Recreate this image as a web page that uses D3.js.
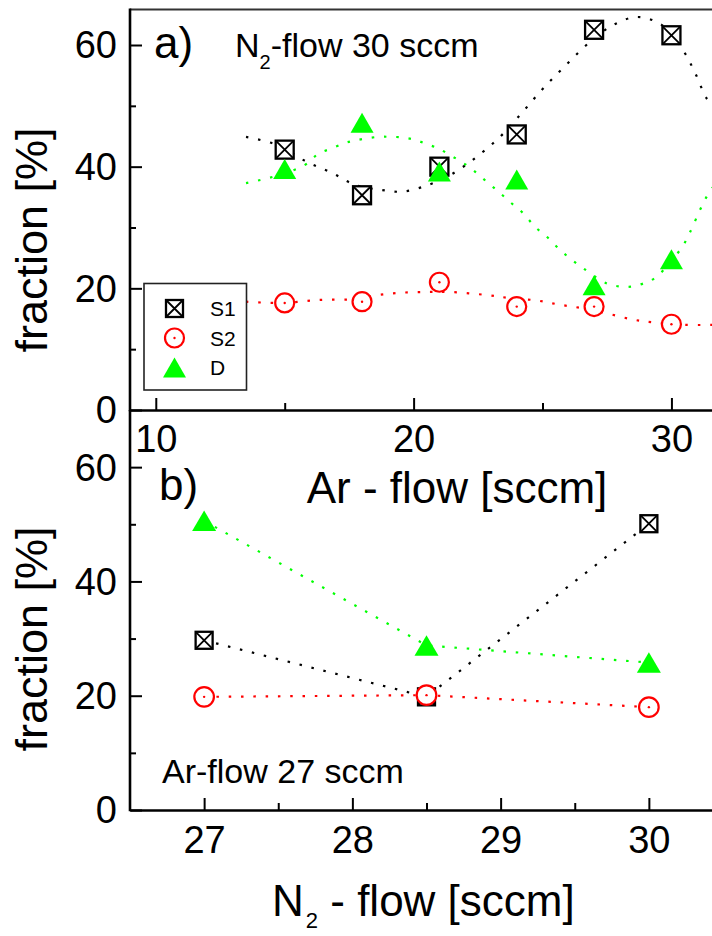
<!DOCTYPE html>
<html>
<head>
<meta charset="utf-8">
<script src="https://cdn.jsdelivr.net/npm/d3@7"></script>
<style>
  html, body { margin: 0; padding: 0; background: #fff; }
  svg { display: block; }
  text { font-family: "Liberation Sans", Arial, sans-serif; fill: #000; }
</style>
</head>
<body>
<svg id="chart" width="712" height="936"></svg>
<script>
// ---- Panel a: varying Ar flow at N2 flow 30 sccm ----
const arFlow = [15, 18, 21, 24, 27, 30];
const s1A = [42.8, 35.3, 40.0, 45.3, 62.5, 61.6];
const s2A = [17.6, 17.8, 21.0, 17.0, 17.0, 14.1];
const dA  = [39.6, 47.2, 39.2, 37.9, 20.5, 24.8];

// smooth fit curves drawn through panel a, as [Ar flow, fraction]
const fitS1 = [[13.5,44.9],[14.69,43.6],[15.85,40.8],[16.87,38.9],[17.73,37.0],[18.7,36.2],
  [19.59,35.9],[20.57,37.0],[21.41,38.6],[22.38,41.4],[23.35,44.9],[24.19,48.8],[25.03,52.9],
  [25.91,56.7],[26.84,60.5],[27.75,63.3],[28.68,64.6],[29.62,63.3],[30.44,59.2],[30.92,55.4],
  [31.37,51.2],[31.6,50.3]];
const fitS2 = [[13.5,17.8],[14.93,17.6],[16.37,18.1],[17.66,18.2],[18.63,18.9],[19.6,19.3],
  [20.57,19.4],[21.41,19.4],[22.84,18.9],[23.74,18.4],[24.78,18.0],[25.68,17.3],[26.58,16.7],
  [27.49,15.9],[28.46,14.9],[29.3,14.4],[30.46,14.0],[31.6,14.0]];
const fitD = [[13.5,37.3],[14.69,38.5],[15.79,40.3],[16.3,42.1],[16.82,43.0],[17.34,43.9],
  [17.73,44.3],[18.63,44.9],[19.09,44.9],[19.6,44.8],[20.06,44.4],[20.51,43.7],[20.96,43.0],
  [21.41,41.9],[21.93,40.6],[22.38,39.2],[22.84,37.5],[23.29,35.9],[23.74,34.2],[24.26,32.3],
  [24.71,30.1],[25.16,28.5],[25.61,26.6],[26.07,24.9],[26.58,23.3],[27.49,20.8],[28.01,20.3],
  [28.46,20.3],[28.91,20.8],[29.36,21.7],[29.9,24.0],[30.46,27.1],[30.73,29.3],[31.11,32.9],
  [31.37,35.1],[31.6,36.6]];

// ---- Panel b: varying N2 flow at Ar flow 27 sccm ----
const n2Flow = [27, 28.5, 30];
const s1B = [29.7, 19.8, 50.1];
const s2B = [19.8, 20.1, 18.0];
const dB  = [50.6, 28.8, 25.8];

// axis ticks
const yMajor = [0, 20, 40, 60];
const yMinor = [10, 30, 50];
const xMajorA = [10, 20, 30];
const xMinorA = [15, 25];
const xMajorB = [27, 28, 29, 30];
const xMinorB = [27.5, 28.5, 29.5];

const legendItems = ["S1", "S2", "D"];

const BLACK = "#000", RED = "#ff0000", GREEN = "#00ff00";

const svg = d3.select("#chart");
svg.append("rect").attr("width", 712).attr("height", 936).attr("fill", "#fff");

const left = 130, right = 723;
const xA = d3.scaleLinear().domain([9, 32]).range([left, right]);
const yA = d3.scaleLinear().domain([0, 66]).range([410, 8.5]);
const xB = d3.scaleLinear().domain([26.5, 30.5]).range([left, right]);
const yB = d3.scaleLinear().domain([0, 70]).range([810, 410]);

svg.append("clipPath").attr("id", "clipA")
  .append("rect").attr("x", left).attr("y", 9).attr("width", right - left).attr("height", 401);

// ---- marker symbols ----
function drawSquare(g, x, y, s) {
  const h = s / 2;
  const m = g.append("g").attr("transform", `translate(${x},${y})`);
  m.append("rect").attr("x", -h).attr("y", -h).attr("width", s).attr("height", s)
    .attr("fill", "#fff").attr("stroke", BLACK).attr("stroke-width", 2.3);
  m.append("path").attr("d", `M${-h},${-h}L${h},${h}M${h},${-h}L${-h},${h}`)
    .attr("stroke", BLACK).attr("stroke-width", 1.8).attr("fill", "none");
}
function drawCircle(g, x, y, r) {
  const m = g.append("g").attr("transform", `translate(${x},${y})`);
  m.append("circle").attr("r", r).attr("fill", "#fff").attr("stroke", RED).attr("stroke-width", 2.2);
  m.append("circle").attr("r", 1.2).attr("fill", RED);
}
function drawTriangle(g, x, y, w, h) {
  g.append("path")
    .attr("d", `M0,${-h / 2}L${w / 2},${h / 2}L${-w / 2},${h / 2}Z`)
    .attr("transform", `translate(${x},${y})`)
    .attr("fill", GREEN);
}

function dotted(g, pts, color, x, y, curve) {
  g.append("path")
    .datum(pts)
    .attr("d", d3.line().x(d => x(d[0])).y(d => y(d[1])).curve(curve))
    .attr("fill", "none").attr("stroke", color)
    .attr("stroke-width", 2.2).attr("stroke-dasharray", "2.5,9.8");
}

// ---- axes ----
function yAxis(yScale, top) {
  const g = svg.append("g").attr("transform", `translate(${left},0)`);
  g.call(d3.axisLeft(yScale).tickValues(yMajor).tickSizeInner(-12).tickSizeOuter(0).tickPadding(13)
    .tickFormat(d3.format("d")));
  g.select(".domain").remove();
  g.selectAll(".tick line").attr("stroke", BLACK).attr("stroke-width", 2);
  g.selectAll(".tick text").attr("font-size", 38).attr("font-family", null).attr("dy", "0.34em");
  const gm = svg.append("g").attr("transform", `translate(${left},0)`);
  gm.call(d3.axisLeft(yScale).tickValues(yMinor).tickSizeInner(-6).tickSizeOuter(0).tickFormat(""));
  gm.select(".domain").remove();
  gm.selectAll(".tick line").attr("stroke", BLACK).attr("stroke-width", 2);
  svg.append("line").attr("x1", left).attr("x2", left)
    .attr("y1", top).attr("y2", yScale(0) + 1.3)
    .attr("stroke", BLACK).attr("stroke-width", 2.6);
}

function xAxis(xScale, yPos, major, minor, pad) {
  const g = svg.append("g").attr("transform", `translate(0,${yPos})`);
  g.call(d3.axisBottom(xScale).tickValues(major).tickSizeInner(-12).tickSizeOuter(0).tickPadding(pad)
    .tickFormat(d3.format("d")));
  g.select(".domain").attr("stroke", BLACK).attr("stroke-width", 2.6);
  g.selectAll(".tick line").attr("stroke", BLACK).attr("stroke-width", 2);
  g.selectAll(".tick text").attr("font-size", 38).attr("font-family", null);
  const gm = svg.append("g").attr("transform", `translate(0,${yPos})`);
  gm.call(d3.axisBottom(xScale).tickValues(minor).tickSizeInner(-7).tickSizeOuter(0).tickFormat(""));
  gm.select(".domain").remove();
  gm.selectAll(".tick line").attr("stroke", BLACK).attr("stroke-width", 2);
}

// panel a frame top line
svg.append("line").attr("x1", left).attr("x2", 712).attr("y1", 9.5).attr("y2", 9.5)
  .attr("stroke", "#333").attr("stroke-width", 2);

yAxis(yA, 8.5);
yAxis(yB, 410);
xAxis(xA, 410, xMajorA, xMinorA, 15);
xAxis(xB, 810, xMajorB, xMinorB, 16);

// ---- panel a content ----
const pa = svg.append("g").attr("clip-path", "url(#clipA)");
const smooth = d3.curveCatmullRom.alpha(0.5);
dotted(pa, fitS1, BLACK, xA, yA, smooth);
dotted(pa, fitD, GREEN, xA, yA, smooth);
dotted(pa, fitS2, RED, xA, yA, smooth);

const ma = svg.append("g");
arFlow.forEach((f, i) => drawSquare(ma, xA(f), yA(s1A[i]), 18));
arFlow.forEach((f, i) => drawCircle(ma, xA(f), yA(s2A[i]), 9.5));
arFlow.forEach((f, i) => drawTriangle(ma, xA(f), yA(dA[i]), 23, 20));

// legend
const lg = svg.append("g");
lg.append("rect").attr("x", 144).attr("y", 283.5).attr("width", 102.5).attr("height", 106.5)
  .attr("fill", "#fff").attr("stroke", "#222").attr("stroke-width", 1.6);
const legY = [308.5, 338, 367.5];
drawSquare(lg, 174.5, legY[0], 17);
drawCircle(lg, 174.5, legY[1], 9.5);
drawTriangle(lg, 174.5, legY[2], 23, 20);
legendItems.forEach((t, i) => {
  lg.append("text").attr("x", 210).attr("y", legY[i] + 7.5).attr("font-size", 21).text(t);
});

// ---- panel b content ----
const pb = svg.append("g");
const straight = d3.curveLinear;
dotted(pb, n2Flow.map((f, i) => [f, s1B[i]]), BLACK, xB, yB, straight);
dotted(pb, n2Flow.map((f, i) => [f, dB[i]]), GREEN, xB, yB, straight);
dotted(pb, n2Flow.map((f, i) => [f, s2B[i]]), RED, xB, yB, straight);
n2Flow.forEach((f, i) => drawSquare(pb, xB(f), yB(s1B[i]), 17));
n2Flow.forEach((f, i) => drawCircle(pb, xB(f), yB(s2B[i]), 9.8));
n2Flow.forEach((f, i) => drawTriangle(pb, xB(f), yB(dB[i]), 24, 20.5));

// ---- titles and annotations ----
function yTitle(cy) {
  svg.append("text").attr("transform", `translate(47,${cy}) rotate(-90)`)
    .attr("text-anchor", "middle").attr("font-size", 45).text("fraction [%]");
}
yTitle(240);
yTitle(639);

svg.append("text").attr("x", 457).attr("y", 503).attr("text-anchor", "middle")
  .attr("font-size", 44).text("Ar - flow [sccm]");

const tb = svg.append("text").attr("x", 272).attr("y", 916).attr("font-size", 44);
tb.append("tspan").text("N");
tb.append("tspan").attr("dy", 12).attr("dx", 2).attr("font-size", 22).text("2");
tb.append("tspan").attr("dy", -12).text(" - flow [sccm]");

svg.append("text").attr("x", 154).attr("y", 58).attr("font-size", 44).text("a)");
svg.append("text").attr("x", 159).attr("y", 500).attr("font-size", 44).text("b)");

const ta = svg.append("text").attr("x", 235).attr("y", 57).attr("font-size", 34);
ta.append("tspan").text("N");
ta.append("tspan").attr("dy", 11.5).attr("font-size", 20).text("2");
ta.append("tspan").attr("dy", -11.5).text("-flow 30 sccm");

svg.append("text").attr("x", 162).attr("y", 783).attr("font-size", 34).text("Ar-flow 27 sccm");
</script>
</body>
</html>
